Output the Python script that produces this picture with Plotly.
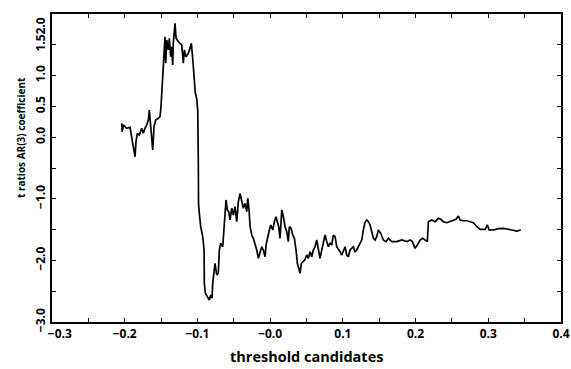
import plotly.graph_objects as go

# threshold candidates and the t ratio of the AR(3) coefficient at each one
threshold = [
    -0.2041, -0.2035, -0.2019, -0.1972, -0.1927, -0.1904, -0.1882, -0.1858, -0.1845, -0.1827,
    -0.1799, -0.1766, -0.1744, -0.1721, -0.1697, -0.1675, -0.1662, -0.1642, -0.1629, -0.1615,
    -0.1597, -0.1574, -0.1538, -0.1514, -0.1501, -0.1483, -0.1469, -0.1459, -0.1446, -0.1436,
    -0.1422, -0.1400, -0.1387, -0.1367, -0.1354, -0.1340, -0.1332, -0.1308, -0.1294, -0.1263,
    -0.1239, -0.1216, -0.1194, -0.1180, -0.1157, -0.1125, -0.1102, -0.1084, -0.1065, -0.1047,
    -0.1029, -0.1010, -0.0996, -0.0988, -0.0987, -0.0985, -0.0974, -0.0955, -0.0927, -0.0909,
    -0.0905, -0.0891, -0.0864, -0.0836, -0.0817, -0.0799, -0.0790, -0.0772, -0.0758, -0.0735,
    -0.0713, -0.0699, -0.0680, -0.0652, -0.0634, -0.0620, -0.0607, -0.0589, -0.0569, -0.0552,
    -0.0528, -0.0506, -0.0483, -0.0459, -0.0437, -0.0414, -0.0391, -0.0369, -0.0345, -0.0322,
    -0.0308, -0.0290, -0.0276, -0.0253, -0.0231, -0.0208, -0.0184, -0.0162, -0.0139, -0.0116,
    -0.0094, -0.0070, -0.0056, -0.0039, -0.0011, 0.0008, 0.0036, 0.0058, 0.0081, 0.0099,
    0.0118, 0.0136, 0.0160, 0.0182, 0.0205, 0.0228, 0.0250, 0.0264, 0.0287, 0.0311,
    0.0333, 0.0356, 0.0374, 0.0393, 0.0411, 0.0429, 0.0448, 0.0476, 0.0503, 0.0525,
    0.0549, 0.0572, 0.0594, 0.0618, 0.0641, 0.0663, 0.0686, 0.0710, 0.0732, 0.0755,
    0.0779, 0.0801, 0.0824, 0.0847, 0.0869, 0.0893, 0.0916, 0.0938, 0.0961, 0.0985,
    0.1007, 0.1030, 0.1054, 0.1076, 0.1099, 0.1122, 0.1144, 0.1168, 0.1191, 0.1213,
    0.1237, 0.1260, 0.1282, 0.1305, 0.1329, 0.1351, 0.1374, 0.1398, 0.1420, 0.1443,
    0.1466, 0.1488, 0.1521, 0.1557, 0.1594, 0.1626, 0.1673, 0.1741, 0.1810, 0.1879,
    0.1924, 0.1956, 0.1993, 0.2025, 0.2062, 0.2099, 0.2131, 0.2162, 0.2176, 0.2223,
    0.2268, 0.2314, 0.2347, 0.2382, 0.2429, 0.2475, 0.2520, 0.2557, 0.2589, 0.2612,
    0.2658, 0.2704, 0.2750, 0.2795, 0.2842, 0.2887, 0.2956, 0.2988, 0.3011, 0.3070,
    0.3139, 0.3208, 0.3276, 0.3345, 0.3392, 0.3447,
]
t_ratio = [
    0.226, 0.089, 0.198, 0.144, 0.161, -0.045, -0.154, -0.317, -0.073, 0.063,
    0.036, 0.144, 0.063, 0.144, 0.198, 0.279, 0.442, 0.170, 0.036, -0.208,
    0.170, 0.279, 0.307, 0.333, 0.495, 0.820, 1.144, 1.416, 1.631, 1.200,
    1.578, 1.416, 1.606, 1.307, 1.469, 1.172, 1.524, 1.849, 1.606, 1.550,
    1.524, 1.497, 1.200, 1.416, 1.307, 1.362, 1.443, 1.524, 1.281, 1.037,
    0.713, 0.631, 0.442, -0.370, -0.695, -1.073, -1.235, -1.453, -1.615, -1.831,
    -2.372, -2.534, -2.589, -2.643, -2.562, -2.615, -2.372, -2.209, -2.047, -2.237,
    -2.209, -1.831, -1.722, -1.778, -1.453, -1.182, -1.019, -1.182, -1.209, -1.344,
    -1.154, -1.263, -1.128, -1.372, -1.047, -0.911, -1.019, -1.154, -1.073, -1.209,
    -0.992, -1.182, -1.453, -1.588, -1.641, -1.722, -1.831, -1.966, -1.885, -1.778,
    -1.831, -1.940, -1.750, -1.641, -1.506, -1.425, -1.506, -1.372, -1.291, -1.372,
    -1.453, -1.641, -1.182, -1.291, -1.453, -1.534, -1.696, -1.453, -1.479, -1.588,
    -1.641, -1.831, -2.047, -2.128, -2.209, -2.047, -2.021, -1.994, -1.912, -1.966,
    -1.859, -1.940, -1.831, -1.778, -1.669, -1.831, -1.966, -1.831, -1.722, -1.588,
    -1.696, -1.778, -1.722, -1.750, -1.588, -1.615, -1.778, -1.831, -1.859, -1.912,
    -1.831, -1.778, -1.912, -1.940, -1.831, -1.804, -1.778, -1.859, -1.831, -1.778,
    -1.722, -1.669, -1.506, -1.377, -1.344, -1.372, -1.425, -1.539, -1.641, -1.669,
    -1.615, -1.506, -1.560, -1.669, -1.696, -1.641, -1.696, -1.696, -1.669, -1.696,
    -1.669, -1.696, -1.804, -1.750, -1.669, -1.641, -1.669, -1.696, -1.372, -1.344,
    -1.372, -1.317, -1.333, -1.372, -1.388, -1.372, -1.344, -1.333, -1.279, -1.344,
    -1.356, -1.356, -1.372, -1.388, -1.453, -1.495, -1.495, -1.425, -1.506, -1.506,
    -1.485, -1.479, -1.495, -1.518, -1.523, -1.506,
]

# axis ticks: marks every 0.05 / 0.5, labels on every other mark
NB = "\u00a0"
x_tickvals = [-0.3, -0.25, -0.2, -0.15, -0.1, -0.05, 0.0, 0.05, 0.1, 0.15, 0.2, 0.25, 0.3, 0.35, 0.4]
x_ticktext = [NB * 5 + "\u22120.3", "", "\u22120.2", "", "\u22120.1", "", "\u22120.0", "",
              "0.1", "", "0.2", "", "0.3", "", "0.4"]
y_tickvals = [-3.0, -2.5, -2.0, -1.5, -1.0, -0.5, 0.0, 0.5, 1.0, 1.5, 2.0]
# the top label is placed separately so it sits just below the frame corner
y_ticktext = ["\u22123.0", "", "\u22122.0", "", "\u22121.0", "", "0.0", "0.5", "1.0", "1.5", ""]
y_top_value = 2.0
y_top_label = "2.0"

FONT = "Open Sans"
TICK_FONT = dict(family=FONT, size=12, color="black", weight="bold")

fig = go.Figure()
fig.add_trace(go.Scatter(
    x=threshold, y=t_ratio, mode="lines",
    line=dict(color="black", width=1.7),
    hoverinfo="skip", showlegend=False,
))

axis_common = dict(
    showgrid=False, zeroline=False, automargin=False,
    showline=True, linecolor="black", linewidth=2, mirror="ticks",
    ticks="inside", ticklen=4, tickwidth=1, tickcolor="black",
    ticklabeloverflow="allow",
    tickfont=TICK_FONT,
)

fig.update_layout(
    width=571, height=369,
    margin=dict(l=52, r=10, t=14, b=47, autoexpand=False),
    paper_bgcolor="white", plot_bgcolor="white",
    xaxis=dict(range=[-0.3, 0.4], tickmode="array", tickvals=x_tickvals,
               ticktext=x_ticktext, tickangle=0, **axis_common),
    yaxis=dict(range=[-3.0, 2.0], tickmode="array", tickvals=y_tickvals,
               ticktext=y_ticktext, tickangle=-90, **axis_common),
    annotations=[
        dict(text=y_top_label, xref="paper", yref="y", x=-12 / 509, y=y_top_value,
             xanchor="center", yanchor="top", textangle=-90, showarrow=False,
             yshift=-3, borderpad=0, font=TICK_FONT),
        dict(text="threshold candidates", xref="paper", yref="paper",
             x=0.5, y=-35 / 308, xanchor="center", yanchor="middle", showarrow=False,
             font=dict(family=FONT, size=14.5, color="black", weight="bold")),
        dict(text="t ratios AR(3) coefficient", xref="paper", yref="paper",
             x=-31 / 509, y=(322 - 138) / 308, xanchor="center", yanchor="middle",
             textangle=-90, showarrow=False,
             font=dict(family=FONT, size=10, color="black", weight="bold")),
    ],
)

fig.write_html("out.html")
